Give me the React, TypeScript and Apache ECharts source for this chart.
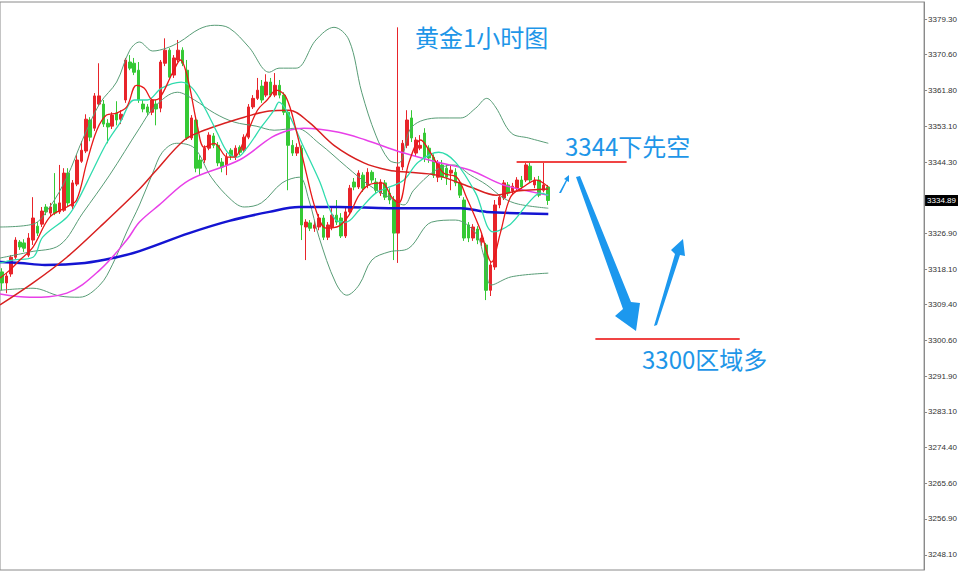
import React, { useEffect, useRef } from "react";
import * as echarts from "echarts";

const slotCount = 210;
const categories: string[] = Array.from({ length: slotCount }, (_, i) => String(i));

// [open, close, low, high]
const candles: number[][] = [
  [3317.4, 3314.7, 3312.9, 3318.3],
  [3314.7, 3316.4, 3312.2, 3317.1],
  [3316.9, 3321.0, 3316.2, 3321.5],
  [3321.0, 3325.2, 3320.5, 3325.9],
  [3324.7, 3323.5, 3322.8, 3325.2],
  [3324.5, 3323.2, 3322.3, 3325.4],
  [3321.5, 3325.7, 3321.0, 3326.9],
  [3325.2, 3330.6, 3324.0, 3335.7],
  [3328.6, 3326.9, 3326.2, 3329.6],
  [3329.1, 3332.3, 3328.4, 3333.3],
  [3333.3, 3332.1, 3331.3, 3334.0],
  [3331.8, 3333.3, 3331.1, 3334.3],
  [3334.0, 3331.8, 3331.3, 3341.6],
  [3332.1, 3334.3, 3331.6, 3343.6],
  [3332.5, 3341.6, 3332.1, 3342.8],
  [3341.6, 3334.3, 3333.5, 3342.8],
  [3333.5, 3339.2, 3332.8, 3339.9],
  [3338.9, 3344.8, 3338.4, 3346.0],
  [3344.5, 3347.2, 3344.1, 3349.4],
  [3347.0, 3354.8, 3346.5, 3356.0],
  [3354.6, 3350.4, 3349.4, 3355.3],
  [3352.6, 3360.5, 3351.9, 3361.2],
  [3358.5, 3360.5, 3358.0, 3368.5],
  [3358.5, 3353.6, 3352.9, 3359.5],
  [3353.8, 3352.9, 3348.9, 3354.8],
  [3353.1, 3355.8, 3352.4, 3356.5],
  [3356.3, 3354.6, 3353.3, 3359.2],
  [3354.8, 3356.0, 3353.6, 3357.0],
  [3359.5, 3369.3, 3358.8, 3369.8],
  [3368.8, 3367.3, 3366.8, 3370.5],
  [3368.5, 3366.3, 3365.6, 3369.8],
  [3366.8, 3359.5, 3358.8, 3368.8],
  [3358.5, 3357.3, 3356.5, 3359.5],
  [3357.8, 3356.5, 3355.6, 3358.5],
  [3356.5, 3359.5, 3355.8, 3359.9],
  [3358.5, 3357.3, 3353.3, 3359.5],
  [3357.5, 3368.8, 3356.5, 3369.3],
  [3368.5, 3371.7, 3367.8, 3374.6],
  [3371.7, 3365.1, 3364.4, 3372.2],
  [3365.6, 3369.8, 3364.9, 3370.5],
  [3369.3, 3371.7, 3368.8, 3374.2],
  [3371.7, 3368.5, 3367.8, 3372.4],
  [3366.8, 3350.2, 3349.7, 3369.3],
  [3350.2, 3355.1, 3349.7, 3355.8],
  [3354.6, 3342.8, 3341.8, 3355.3],
  [3344.8, 3342.8, 3341.1, 3346.0],
  [3344.8, 3347.7, 3344.1, 3348.4],
  [3347.7, 3350.9, 3347.2, 3351.6],
  [3350.7, 3348.4, 3347.7, 3351.4],
  [3348.4, 3344.1, 3343.3, 3349.2],
  [3344.3, 3343.1, 3341.8, 3345.3],
  [3343.6, 3345.5, 3341.1, 3346.5],
  [3347.2, 3345.8, 3344.8, 3347.7],
  [3345.5, 3347.7, 3344.8, 3348.4],
  [3347.9, 3346.7, 3346.0, 3348.4],
  [3347.2, 3350.4, 3346.7, 3351.1],
  [3350.4, 3357.8, 3349.9, 3358.5],
  [3357.8, 3359.9, 3357.3, 3360.7],
  [3359.9, 3361.9, 3359.5, 3364.9],
  [3362.9, 3359.5, 3358.8, 3364.4],
  [3360.7, 3363.9, 3360.2, 3365.8],
  [3363.9, 3360.7, 3360.2, 3364.9],
  [3360.7, 3363.1, 3360.2, 3366.1],
  [3363.1, 3360.7, 3359.9, 3364.4],
  [3360.7, 3356.5, 3355.8, 3361.4],
  [3356.5, 3348.4, 3337.4, 3357.0],
  [3348.4, 3346.5, 3345.8, 3349.7],
  [3346.5, 3347.9, 3345.8, 3348.9],
  [3347.7, 3328.9, 3325.2, 3348.4],
  [3328.4, 3329.6, 3320.3, 3330.3],
  [3329.4, 3328.1, 3327.4, 3330.1],
  [3328.1, 3328.9, 3327.2, 3329.9],
  [3328.4, 3330.6, 3327.6, 3331.6],
  [3330.6, 3325.9, 3325.2, 3331.3],
  [3325.9, 3328.9, 3325.2, 3329.6],
  [3328.4, 3331.3, 3327.6, 3333.0],
  [3331.3, 3329.6, 3328.9, 3335.0],
  [3330.6, 3326.2, 3325.7, 3331.8],
  [3326.2, 3332.1, 3325.7, 3333.5],
  [3332.1, 3337.9, 3331.6, 3338.7],
  [3339.4, 3338.2, 3337.4, 3340.4],
  [3338.2, 3341.6, 3337.7, 3342.3],
  [3341.1, 3337.9, 3337.0, 3341.8],
  [3338.7, 3341.8, 3337.9, 3342.8],
  [3341.8, 3339.9, 3339.2, 3342.3],
  [3339.4, 3337.4, 3336.7, 3340.4],
  [3336.7, 3339.4, 3336.0, 3340.1],
  [3339.2, 3335.7, 3335.0, 3339.9],
  [3336.7, 3335.0, 3334.0, 3337.9],
  [3335.0, 3326.9, 3320.3, 3336.0],
  [3326.9, 3343.1, 3319.6, 3377.3],
  [3343.1, 3348.9, 3342.3, 3349.7],
  [3348.4, 3354.6, 3347.7, 3357.0],
  [3355.1, 3350.2, 3349.2, 3357.0],
  [3346.5, 3349.7, 3345.8, 3350.4],
  [3347.7, 3348.4, 3347.2, 3350.9],
  [3351.4, 3345.3, 3344.3, 3352.6],
  [3347.7, 3345.3, 3344.1, 3348.4],
  [3345.5, 3341.1, 3340.4, 3346.2],
  [3340.6, 3344.1, 3339.4, 3344.8],
  [3343.6, 3340.6, 3339.9, 3344.8],
  [3342.8, 3340.6, 3338.7, 3343.6],
  [3341.6, 3342.3, 3337.4, 3343.6],
  [3341.8, 3339.2, 3338.4, 3342.8],
  [3339.2, 3336.2, 3335.5, 3339.9],
  [3335.0, 3325.7, 3325.0, 3335.7],
  [3328.9, 3325.7, 3324.7, 3329.6],
  [3325.7, 3328.4, 3325.0, 3329.1],
  [3327.9, 3325.2, 3324.2, 3328.6],
  [3324.7, 3325.7, 3323.7, 3326.6],
  [3324.0, 3312.9, 3310.5, 3324.5],
  [3312.9, 3319.1, 3311.5, 3319.8],
  [3318.6, 3333.8, 3317.9, 3335.0],
  [3333.8, 3335.7, 3333.0, 3336.4],
  [3335.5, 3339.2, 3335.0, 3339.9],
  [3338.7, 3336.7, 3336.0, 3339.4],
  [3337.2, 3338.4, 3336.5, 3339.2],
  [3337.9, 3339.9, 3337.4, 3340.6],
  [3339.9, 3338.2, 3337.4, 3340.9],
  [3339.9, 3343.6, 3339.4, 3344.1],
  [3343.3, 3339.9, 3339.2, 3344.1],
  [3338.7, 3339.9, 3337.9, 3340.6],
  [3339.9, 3336.2, 3335.7, 3340.9],
  [3337.4, 3338.7, 3336.9, 3344.3],
  [3338.2, 3334.89, 3333.8, 3338.7],
];

const lastPrice = 3334.89;

const yTickValues: number[] = [
  3379.3, 3370.6, 3361.8, 3353.1, 3344.3, 3326.9, 3318.1, 3309.4, 3300.6,
  3291.9, 3283.1, 3274.4, 3265.6, 3256.9, 3248.1,
];

// indicator lines: [bar index, price]
const maFast: number[][] = [
  [-0.5, 3315.9], [1.8, 3317.9], [4.0, 3320.3], [7.0, 3323.5], [10.8, 3330.8],
  [14.7, 3333.3], [16.9, 3335.0], [19.2, 3344.1], [21.5, 3352.1], [23.7, 3355.8],
  [26.0, 3356.3], [28.3, 3357.8], [30.5, 3363.1], [32.3, 3362.4], [34.2, 3359.5],
  [35.7, 3359.9], [38.7, 3366.1], [40.5, 3369.3], [42.1, 3365.1], [44.4, 3352.9],
  [45.9, 3347.9], [48.2, 3348.9], [51.2, 3345.5], [52.7, 3345.5], [55.0, 3349.7],
  [58.0, 3357.0], [60.2, 3359.5], [62.3, 3361.9], [64.5, 3360.2], [66.8, 3352.1],
  [69.1, 3341.6], [71.3, 3332.5], [73.6, 3328.1], [76.5, 3328.6], [78.8, 3331.3],
  [81.1, 3336.2], [83.3, 3338.7], [86.3, 3339.2], [88.5, 3335.7], [90.1, 3334.3],
  [92.4, 3344.1], [95.1, 3349.7], [97.4, 3346.5], [100.3, 3341.6], [103.3, 3340.6],
  [105.5, 3335.7], [108.7, 3327.6], [111.2, 3319.8], [113.2, 3326.9], [115.5, 3335.7],
  [118.4, 3338.2], [121.4, 3339.9], [124.1, 3338.2],
];

const maCyan: number[][] = [
  [-0.5, 3319.6], [2.4, 3320.3], [7.0, 3321.0], [9.2, 3325.9], [14.7, 3330.8],
  [16.9, 3334.3], [20.6, 3342.3], [23.7, 3348.9], [26.7, 3353.8], [30.1, 3359.5],
  [33.0, 3359.5], [36.2, 3362.4], [40.7, 3363.9], [43.2, 3362.4], [45.9, 3357.8],
  [48.9, 3351.4], [51.2, 3346.7], [53.4, 3345.5], [55.7, 3347.9], [58.9, 3352.9],
  [61.8, 3357.0], [62.9, 3359.0], [65.2, 3355.8], [68.1, 3348.9], [72.0, 3339.9],
  [75.8, 3330.1], [78.1, 3329.6], [81.1, 3332.5], [84.9, 3336.7], [88.5, 3338.4],
  [91.3, 3339.9], [94.6, 3344.3], [99.2, 3346.7], [103.0, 3344.3], [107.6, 3336.7],
  [111.6, 3327.2], [115.5, 3329.1], [119.6, 3334.3], [122.3, 3336.7], [124.1, 3336.2],
];

const bandUpper: number[][] = [
  [-0.5, 3328.4], [7.0, 3329.1], [10.8, 3333.3], [14.7, 3340.6], [18.3, 3349.9],
  [22.2, 3358.7], [26.0, 3363.9], [29.0, 3371.7], [31.2, 3373.7], [34.2, 3371.5],
  [37.3, 3372.2], [40.3, 3373.7], [44.8, 3376.9], [48.2, 3377.8], [51.6, 3377.1],
  [56.1, 3372.4], [60.7, 3366.3], [62.9, 3367.3], [66.8, 3367.3], [71.3, 3374.2],
  [75.4, 3377.3], [78.8, 3374.2], [81.7, 3361.4], [84.9, 3350.9], [87.9, 3344.8],
  [90.1, 3344.1], [93.1, 3352.9], [99.2, 3355.1], [104.2, 3355.1], [107.6, 3357.5],
  [110.1, 3359.9], [112.1, 3357.8], [115.7, 3351.4], [119.6, 3350.2], [124.1, 3348.9],
];

const bandMiddle: number[][] = [
  [-0.5, 3320.8], [6.3, 3322.3], [13.1, 3324.0], [18.3, 3331.8], [24.4, 3341.1],
  [31.2, 3352.6], [34.6, 3357.8], [39.8, 3361.4], [43.7, 3359.5], [48.2, 3356.3],
  [52.7, 3354.1], [57.7, 3353.1], [61.8, 3352.1], [66.8, 3352.6], [72.0, 3348.9],
  [78.3, 3343.1], [83.3, 3338.7], [87.9, 3335.7], [91.3, 3333.8], [93.5, 3337.4],
  [98.5, 3342.3], [102.6, 3343.6], [106.4, 3341.1], [110.1, 3338.7], [113.9, 3335.5],
  [117.3, 3334.0], [124.1, 3333.0],
];

const bandLower: number[][] = [
  [-0.5, 3312.9], [7.0, 3313.4], [13.1, 3311.5], [17.6, 3311.2], [22.2, 3314.2],
  [25.1, 3319.3], [28.3, 3327.2], [31.2, 3333.8], [34.2, 3341.6], [36.4, 3346.7],
  [39.6, 3348.9], [43.7, 3347.7], [47.5, 3340.6], [52.1, 3335.0], [55.0, 3333.3],
  [58.9, 3334.3], [63.6, 3339.2], [67.5, 3340.6], [69.7, 3335.0], [72.0, 3325.9],
  [75.8, 3314.7], [78.3, 3311.7], [81.1, 3314.2], [84.0, 3320.3], [87.9, 3322.3],
  [92.4, 3323.2], [97.6, 3329.6], [103.0, 3330.1], [107.6, 3326.9], [109.4, 3321.5],
  [111.2, 3314.2], [115.7, 3316.2], [124.1, 3317.1],
];

const maRed: number[][] = [
  [-0.5, 3309.3], [7.0, 3314.7], [14.7, 3321.0], [22.2, 3328.4], [31.2, 3337.7],
  [34.6, 3341.8], [41.4, 3349.7], [45.9, 3352.1], [50.5, 3353.8], [55.0, 3355.3],
  [60.7, 3356.8], [65.2, 3357.0], [69.7, 3354.1], [75.4, 3348.4], [82.2, 3344.1],
  [87.9, 3342.3], [92.4, 3341.8], [98.7, 3341.1], [106.4, 3338.2], [112.3, 3336.2],
  [116.9, 3337.2], [124.1, 3337.7],
];

const maMagenta: number[][] = [
  [-0.5, 3312.0], [6.3, 3311.2], [14.7, 3312.2], [22.2, 3317.9], [28.3, 3325.2],
  [31.2, 3329.6], [35.7, 3333.8], [42.5, 3339.9], [53.9, 3344.8], [61.3, 3350.4],
  [65.2, 3352.1], [68.6, 3352.6], [76.5, 3351.6], [82.6, 3349.7], [87.9, 3347.7],
  [91.3, 3346.5], [98.7, 3344.3], [106.4, 3342.3], [113.9, 3338.7], [124.1, 3336.2],
];

const maBlue: number[][] = [
  [-0.5, 3319.8], [4.0, 3319.6], [9.7, 3319.1], [18.8, 3319.6], [26.0, 3321.0],
  [31.2, 3322.5], [42.5, 3326.9], [51.6, 3329.9], [60.7, 3332.1], [67.5, 3333.3],
  [76.5, 3333.3], [87.9, 3333.0], [96.9, 3333.0], [104.2, 3333.0], [110.1, 3332.1],
  [124.1, 3331.6],
];

const shortLevel: number[][] = [[116.9, 3344.3], [141.9, 3344.3]];
const longLevel: number[][] = [[134.8, 3301.0], [167.6, 3301.0]];

const titleText = "黄金1小时图";
const shortText = "3344下先空";
const longText = "3300区域多";

const blue = "#1e96e8";
const cjkFont = '"Noto Sans CJK SC", "Noto Sans", sans-serif';

function lineSeries(data: number[][], color: string, width: number, z: number) {
  return {
    type: "line",
    xAxisIndex: 1,
    yAxisIndex: 0,
    data,
    smooth: 0.35,
    symbol: "none",
    silent: true,
    z,
    lineStyle: { color, width },
  };
}

export default function App() {
  const ref = useRef<HTMLDivElement>(null);

  useEffect(() => {
    if (!ref.current) return;
    const chart = echarts.init(ref.current, undefined, { renderer: "svg" });
    chart.setOption({
      animation: false,
      backgroundColor: "#ffffff",
      textStyle: { fontFamily: "Liberation Sans, sans-serif" },
      grid: {
        left: -1,
        right: 33,
        top: 2,
        bottom: 3,
        show: true,
        borderColor: "#8a8a8a",
        borderWidth: 1,
        backgroundColor: "transparent",
      },
      xAxis: [
        {
          type: "category",
          data: categories,
          boundaryGap: true,
          axisLine: { show: false, onZero: false },
          axisTick: { show: false },
          axisLabel: { show: false },
          splitLine: { show: false },
        },
        {
          type: "value",
          min: -0.5,
          max: slotCount - 0.5,
          show: false,
          axisTick: { show: false },
          axisLabel: { show: false },
          axisLine: { show: false, onZero: false },
          splitLine: { show: false },
        },
      ],
      yAxis: {
        type: "value",
        position: "right",
        min: 3244.4,
        max: 3383.5,
        splitLine: { show: false },
        axisLine: { show: true, onZero: false, lineStyle: { color: "#8a8a8a", width: 1 } },
        axisTick: {
          show: true,
          inside: false,
          length: 3,
          customValues: yTickValues,
          lineStyle: { color: "#8a8a8a" },
        },
        axisLabel: {
          customValues: yTickValues,
          formatter: (v: number) => v.toFixed(2),
          margin: 4,
          fontSize: 8,
          color: "#333333",
          fontFamily: "Liberation Sans, sans-serif",
        },
      },
      graphic: [
        {
          type: "text",
          x: 415,
          y: 36,
          style: {
            text: titleText,
            fill: blue,
            fontSize: 24,
            fontFamily: cjkFont,
            verticalAlign: "middle",
            align: "left",
          },
        },
        {
          type: "text",
          x: 565,
          y: 145,
          style: {
            text: shortText,
            fill: blue,
            fontSize: 24,
            fontFamily: cjkFont,
            verticalAlign: "middle",
            align: "left",
          },
        },
        {
          type: "text",
          x: 642,
          y: 358,
          style: {
            text: longText,
            fill: blue,
            fontSize: 24,
            fontFamily: cjkFont,
            verticalAlign: "middle",
            align: "left",
          },
        },
        {
          type: "polygon",
          shape: {
            points: [
              [576, 177], [580, 176], [631, 302], [640, 303], [636, 331], [615, 316], [623, 309],
            ],
          },
          style: { fill: "#1c98ee" },
        },
        {
          type: "polygon",
          shape: {
            points: [
              [654, 326], [657, 325], [680, 255], [685, 256], [683, 239], [671, 250], [675, 254],
            ],
          },
          style: { fill: "#1c98ee" },
        },
        {
          type: "polygon",
          shape: {
            points: [
              [559, 193], [561, 193], [567, 181], [569, 182], [569, 175], [564, 179], [566, 180],
            ],
          },
          style: { fill: "#1c98ee" },
        },
      ],
      series: [
        {
          type: "candlestick",
          xAxisIndex: 0,
          yAxisIndex: 0,
          data: candles,
          barWidth: 3,
          z: 2,
          silent: true,
          itemStyle: {
            color: "#e8242a",
            color0: "#35c935",
            borderColor: "#e8242a",
            borderColor0: "#35c935",
            borderWidth: 1,
          },
          markLine: {
            silent: true,
            symbol: "none",
            lineStyle: { color: "rgba(0,0,0,0)", width: 1, type: "solid" },
            label: {
              show: true,
              position: "end",
              distance: 1,
              formatter: () => lastPrice.toFixed(2),
              backgroundColor: "#000000",
              color: "#ffffff",
              fontSize: 8,
              padding: [2, 2, 1, 2],
              fontFamily: "Liberation Sans, sans-serif",
            },
            data: [{ yAxis: lastPrice }],
          },
        },
        lineSeries(bandUpper, "#589c76", 1, 3),
        lineSeries(bandMiddle, "#589c76", 1, 3),
        lineSeries(bandLower, "#589c76", 1, 3),
        lineSeries(maBlue, "#1414d2", 2.5, 4),
        lineSeries(maMagenta, "#e840e8", 1.5, 4),
        lineSeries(maRed, "#d82020", 1.5, 4),
        lineSeries(maCyan, "#30dcae", 1.3, 5),
        lineSeries(maFast, "#e81818", 1.3, 6),
        {
          type: "line",
          xAxisIndex: 1,
          yAxisIndex: 0,
          data: shortLevel,
          symbol: "none",
          silent: true,
          z: 7,
          lineStyle: { color: "#f04444", width: 2 },
        },
        {
          type: "line",
          xAxisIndex: 1,
          yAxisIndex: 0,
          data: longLevel,
          symbol: "none",
          silent: true,
          z: 7,
          lineStyle: { color: "#f04444", width: 2 },
        },
      ],
    });
    return () => chart.dispose();
  }, []);

  return (
    <div
      ref={ref}
      style={{
        position: "absolute",
        left: 0,
        top: 0,
        width: 960,
        height: 573,
        background: "#ffffff",
      }}
    />
  );
}
